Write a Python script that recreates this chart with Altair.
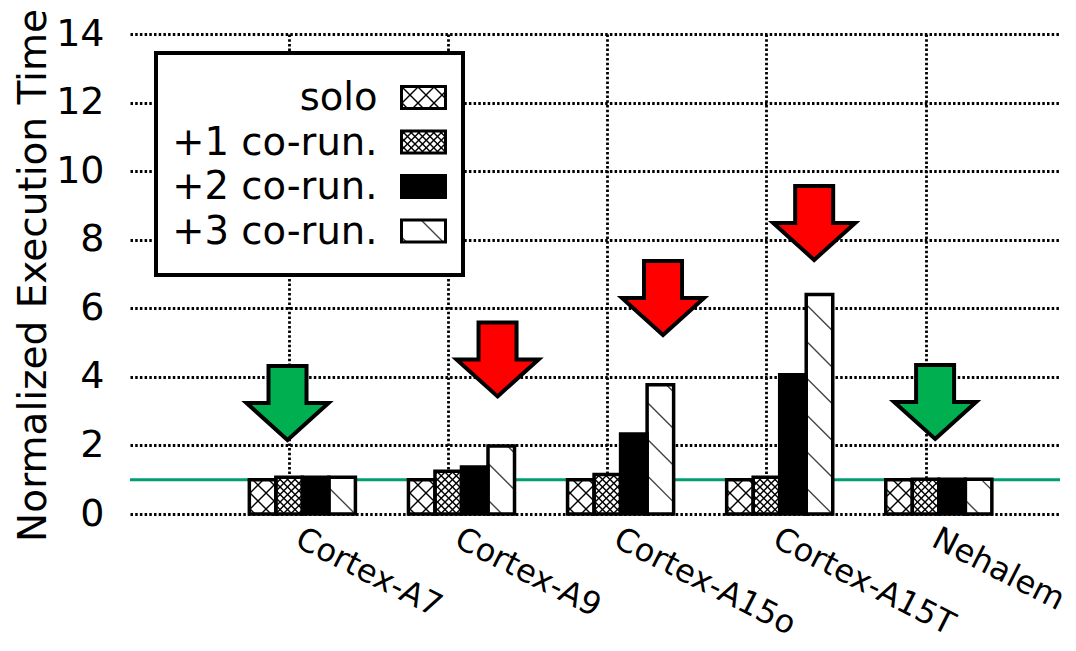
import altair as alt
import numpy as np
import pandas as pd

# ---------------- data ----------------
categories = ["Cortex-A7", "Cortex-A9", "Cortex-A15o", "Cortex-A15T", "Nehalem"]
series = ["solo", "+1 co-run.", "+2 co-run.", "+3 co-run."]
solo = [1.00, 1.00, 1.00, 1.00, 1.00]
co_run_1 = [1.07, 1.25, 1.15, 1.07, 1.01]
co_run_2 = [1.07, 1.37, 2.33, 4.06, 1.01]
co_run_3 = [1.07, 1.98, 3.77, 6.40, 1.01]
y_ticks = [0, 2, 4, 6, 8, 10, 12, 14]
reference_level = [1.0]
arrow_x = [-0.01, 1.31, 2.35, 3.30, 4.06]
arrow_tip = [2.16, 3.43, 5.22, 7.41, 2.19]
arrow_kind = ["fine", "bad", "bad", "bad", "fine"]

# ---------------- layout ----------------
FONT = "DejaVu Sans"
W, H = 930, 480
XMIN, XMAX = -1.0, 4.845
YMAX = 14.0
SX = W / (XMAX - XMIN)
SY = H / YMAX
GROUP_START = -0.25
BAR_W = 1.0 / 6.0

values = [solo, co_run_1, co_run_2, co_run_3]
rows = []
for ci, cat in enumerate(categories):
    for si, s in enumerate(series):
        x0 = ci + GROUP_START + si * BAR_W
        rows.append(dict(category=cat, series=s, v=values[si][ci],
                         x0=x0, x1=x0 + BAR_W, base=0.0))
bars = pd.DataFrame(rows)

# hatch styles: (direction, period px)
HATCH = {
    "solo": [("\\", 16.0), ("/", 16.0)],
    "+1 co-run.": [("\\", 7.5), ("/", 7.5)],
    "+3 co-run.": [("\\", 36.7)],
}


def hatch_segments(X0, X1, Yt, Yb, d, P, phase=0.0):
    segs = []
    if d == "\\":  # Y = X + c
        cmin, cmax = Yt - X1, Yb - X0
        for k in range(int(np.ceil((cmin - phase) / P)), int(np.floor((cmax - phase) / P)) + 1):
            c = phase + k * P
            a = max(X0, Yt - c)
            b = min(X1, Yb - c)
            if b - a > 0.4:
                segs.append((a, a + c, b, b + c))
    else:  # Y = c - X
        cmin, cmax = Yt + X0, Yb + X1
        for k in range(int(np.ceil((cmin - phase) / P)), int(np.floor((cmax - phase) / P)) + 1):
            c = phase + k * P
            a = max(X0, c - Yb)
            b = min(X1, c - Yt)
            if b - a > 0.4:
                segs.append((a, c - a, b, c - b))
    return segs


hrows = []
for r in rows:
    if r["series"] not in HATCH:
        continue
    X0 = (r["x0"] - XMIN) * SX
    X1 = (r["x1"] - XMIN) * SX
    Yt = (YMAX - r["v"]) * SY
    Yb = H
    for d, P in HATCH[r["series"]]:
        ph = 34.6 if r["series"] == "+3 co-run." else 3.0
        for (xa, ya, xb, yb) in hatch_segments(X0, X1, Yt, Yb, d, P, ph):
            hrows.append(dict(series=r["series"],
                              hx=xa / SX + XMIN, hy=YMAX - ya / SY,
                              hx2=xb / SX + XMIN, hy2=YMAX - yb / SY))
hatch = pd.DataFrame(hrows)

arrows = pd.DataFrame(dict(ax=arrow_x, tip=arrow_tip, kind=arrow_kind))
ref = pd.DataFrame(dict(level=reference_level))

# ---------------- scales / axes ----------------
x_scale = alt.Scale(domain=[XMIN, XMAX], nice=False, zero=False)
y_scale = alt.Scale(domain=[0, YMAX], nice=False)
label_expr = "[" + ",".join("'%s'" % c for c in categories) + "][datum.value]"
x_axis = alt.Axis(values=list(range(len(categories))), labelExpr=label_expr, title=None,
                  grid=True, ticks=False, tickSize=0, domain=False, labelAngle=27,
                  labelAlign="left", labelBaseline="alphabetic", labelPadding=31,
                  labelOffset=4, labelFontSize=32, labelFlush=False, labelOverlap=False,
                  labelLimit=0)
y_axis = alt.Axis(values=y_ticks, title="Normalized Execution Time", grid=True, ticks=False,
                  tickSize=0, domain=False, labelPadding=26, labelFontSize=38,
                  titleFontSize=39, titleFontWeight="normal", titleX=-85, titleY=241,
                  titleAngle=-90, titleBaseline="alphabetic", titleAlign="center",
                  labelFlush=False)


def X(f):
    return alt.X(f, scale=x_scale, axis=x_axis)


def Y(f):
    return alt.Y(f, scale=y_scale, axis=y_axis)


is_black = "datum.series == '+2 co-run.'"

level_line = alt.Chart(ref).mark_rule(color="#009e73", strokeWidth=3).encode(y=Y("level:Q"))

bar_fill = alt.Chart(bars).mark_rect(strokeWidth=0).encode(
    x=X("x0:Q"), x2="x1", y=Y("v:Q"), y2="base",
    fill=alt.condition(is_black, alt.value("black"), alt.value("white")),
)

hatch_lines = alt.Chart(hatch).mark_rule(strokeWidth=1.4).encode(
    x=X("hx:Q"), x2="hx2", y=Y("hy:Q"), y2="hy2",
    color=alt.condition("datum.series == '+3 co-run.'", alt.value("#444444"), alt.value("black")),
)

bar_outline = alt.Chart(bars).mark_rect(fillOpacity=0, stroke="black", strokeWidth=3.5).encode(
    x=X("x0:Q"), x2="x1", y=Y("v:Q"), y2="base",
)

ARROW = "M0,0L0.82,-0.74L0.38,-0.74L0.38,-1.48L-0.38,-1.48L-0.38,-0.74L-0.82,-0.74Z"
arrow_marks = alt.Chart(arrows).mark_point(
    shape=ARROW, size=10000, filled=True, opacity=1, stroke="black", strokeWidth=4,
    strokeOpacity=1, fillOpacity=1,
).encode(
    x=X("ax:Q"), y=Y("tip:Q"),
    fill=alt.condition("datum.kind == 'bad'", alt.value("#ff0000"), alt.value("#00b050")),
)

main = alt.layer(level_line, bar_fill, hatch_lines, bar_outline, arrow_marks)

# ---------------- manual legend (pixel coordinates inside plot) ----------------
LBOX = dict(x=[26.0], x2=[333.0], y=[19.0], y2=[241.0])
ROW0, ROWSTEP = 76.0, 44.5
SW_X0, SW_X1, SW_HALF = 271.5, 315.5, 11.0
leg = pd.DataFrame(dict(series=series,
                        ty=[ROW0 + ROWSTEP * i for i in range(len(series))]))
leg["tx"] = 247.5
leg["sy0"] = leg["ty"] - 12.5 - SW_HALF
leg["sy1"] = leg["ty"] - 12.5 + SW_HALF
leg["sx0"] = SW_X0
leg["sx1"] = SW_X1

lh = []
for _, r in leg.iterrows():
    if r["series"] not in HATCH:
        continue
    for d, P in HATCH[r["series"]]:
        for (xa, ya, xb, yb) in hatch_segments(r["sx0"], r["sx1"], r["sy0"], r["sy1"], d, P, 5.0):
            lh.append(dict(series=r["series"], hx=xa, hy=ya, hx2=xb, hy2=yb))
leg_hatch = pd.DataFrame(lh)


def PX(f):
    return alt.X(f, scale=None, axis=None)


def PY(f):
    return alt.Y(f, scale=None, axis=None)


leg_box = alt.Chart(pd.DataFrame(LBOX)).mark_rect(fill="white", stroke="black", strokeWidth=4).encode(
    x=PX("x:Q"), x2="x2", y=PY("y:Q"), y2="y2")
leg_text = alt.Chart(leg).mark_text(align="right", baseline="alphabetic", fontSize=38.5,
                                    font=FONT, color="black").encode(
    x=PX("tx:Q"), y=PY("ty:Q"), text="series:N")
leg_fill = alt.Chart(leg).mark_rect(strokeWidth=0).encode(
    x=PX("sx0:Q"), x2="sx1", y=PY("sy0:Q"), y2="sy1",
    fill=alt.condition(is_black, alt.value("black"), alt.value("white")))
leg_hl = alt.Chart(leg_hatch).mark_rule(strokeWidth=1.4).encode(
    x=PX("hx:Q"), x2="hx2", y=PY("hy:Q"), y2="hy2",
    color=alt.condition("datum.series == '+3 co-run.'", alt.value("#444444"), alt.value("black")))
leg_outline = alt.Chart(leg).mark_rect(fillOpacity=0, stroke="black", strokeWidth=3).encode(
    x=PX("sx0:Q"), x2="sx1", y=PY("sy0:Q"), y2="sy1")

legend = alt.layer(leg_box, leg_text, leg_fill, leg_hl, leg_outline)

chart = alt.layer(main, legend).resolve_scale(x="independent", y="independent").properties(
    width=W, height=H,
    padding={"left": 122, "top": 26, "right": 8, "bottom": 129},
    autosize=alt.AutoSizeParams(type="none"),
).configure_view(strokeWidth=0).configure_axis(
    labelFont=FONT, titleFont=FONT, labelColor="black", titleColor="black",
    gridColor="black", gridOpacity=1, gridDash=[2.5, 2.2], gridWidth=2.8,
)

chart.save("out.html", embed_options={"renderer": "svg", "actions": False})
